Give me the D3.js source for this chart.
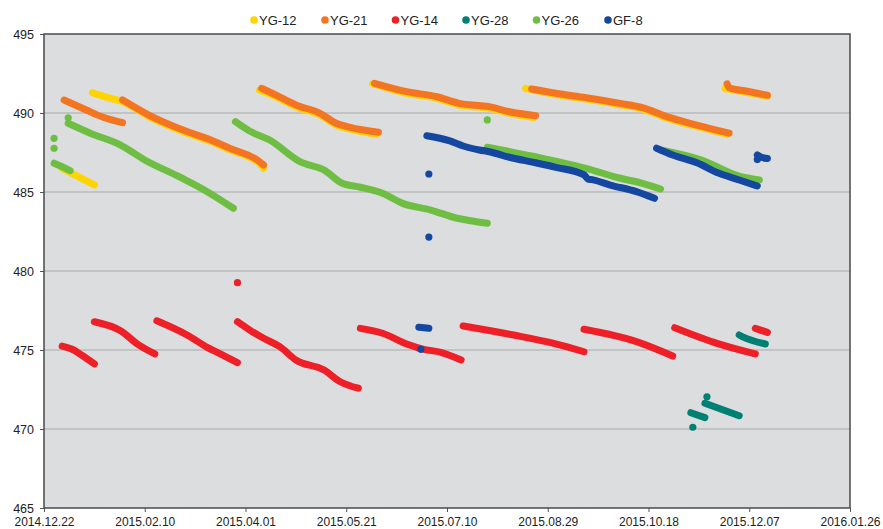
<!DOCTYPE html>
<html><head><meta charset="utf-8">
<script src="https://cdn.jsdelivr.net/npm/d3@7"></script>
<style>html,body{margin:0;padding:0;background:#fff;}svg{display:block;font-family:"Liberation Sans",Arial,Helvetica,sans-serif;}</style>
</head><body><svg id="c" width="883" height="529"></svg>
<script>
// ---- data ----
const seriesNames = ["YG-12","YG-21","YG-14","YG-28","YG-26","GF-8"];
const seriesColors = ["#ffd400","#f47521","#ee1f26","#007f73","#6fbe44","#1347a0"];
const xTickLabels = ["2014.12.22","2015.02.10","2015.04.01","2015.05.21","2015.07.10","2015.08.29","2015.10.18","2015.12.07","2016.01.26"];
const xTickDates = ["2014-12-22","2015-02-10","2015-04-01","2015-05-21","2015-07-10","2015-08-29","2015-10-18","2015-12-07","2016-01-26"];
const yTickValues = [465,470,475,480,485,490,495];

const yg12Segments = [
  [["2014-12-31",486.5],["2015-01-06",486.1],["2015-01-16",485.45]],
  [["2015-01-15",491.28],["2015-01-22",491.0],["2015-01-30",490.72],["2015-02-12",489.77],["2015-03-01",488.82],["2015-03-16",488.13],["2015-03-24",487.68],["2015-04-08",486.8],["2015-04-10",486.5]],
  [["2015-04-08",491.45],["2015-04-16",491.02],["2015-04-26",490.4],["2015-05-08",489.87],["2015-05-16",489.24],["2015-05-23",488.98],["2015-06-05",488.65]],
  [["2015-06-03",491.85],["2015-06-20",491.24],["2015-07-05",490.93],["2015-07-16",490.5],["2015-07-31",490.3],["2015-08-10",489.98],["2015-08-22",489.72]],
  [["2015-08-18",491.56],["2015-09-02",491.16],["2015-09-17",490.88],["2015-10-04",490.52],["2015-10-15",490.25],["2015-10-27",489.68],["2015-11-11",489.15],["2015-11-26",488.65]],
  [["2015-11-25",491.55],["2015-12-06",491.3],["2015-12-16",491.05]]
];
const yg12Dots = [];

const yg21Segments = [
  [["2015-01-01",490.82],["2015-01-12",490.19],["2015-01-20",489.75],["2015-01-30",489.39]],
  [["2015-01-30",490.82],["2015-02-12",489.87],["2015-03-01",488.92],["2015-03-16",488.23],["2015-03-24",487.78],["2015-04-08",486.92],["2015-04-10",486.71]],
  [["2015-04-09",491.56],["2015-04-16",491.14],["2015-04-26",490.51],["2015-05-08",489.98],["2015-05-16",489.35],["2015-05-23",489.09],["2015-06-06",488.78]],
  [["2015-06-04",491.88],["2015-06-20",491.35],["2015-07-05",491.03],["2015-07-16",490.61],["2015-07-31",490.4],["2015-08-10",490.08],["2015-08-23",489.83]],
  [["2015-08-21",491.52],["2015-09-02",491.25],["2015-09-17",490.97],["2015-10-04",490.61],["2015-10-15",490.34],["2015-10-27",489.77],["2015-11-11",489.24],["2015-11-27",488.72]],
  [["2015-11-26",491.85],["2015-11-27",491.6],["2015-12-06",491.38],["2015-12-16",491.12]]
];
const yg21Dots = [];

const yg14Segments = [
  [["2014-12-31",475.25],["2015-01-05",475.05],["2015-01-10",474.65],["2015-01-16",474.12]],
  [["2015-01-16",476.79],["2015-01-29",476.22],["2015-02-07",475.32],["2015-02-15",474.75]],
  [["2015-02-16",476.85],["2015-03-03",475.95],["2015-03-13",475.17],["2015-03-19",474.79],["2015-03-28",474.2]],
  [["2015-03-28",476.79],["2015-04-03",476.27],["2015-04-10",475.74],["2015-04-18",475.21],["2015-04-26",474.37],["2015-05-10",473.73],["2015-05-18",472.99],["2015-05-27",472.58]],
  [["2015-05-28",476.37],["2015-06-08",476.06],["2015-06-20",475.38],["2015-06-28",475.06],["2015-07-07",474.85],["2015-07-17",474.37]],
  [["2015-07-18",476.52],["2015-08-12",475.95],["2015-09-01",475.42],["2015-09-16",474.89]],
  [["2015-09-16",476.31],["2015-10-12",475.53],["2015-10-30",474.62]],
  [["2015-10-31",476.41],["2015-11-21",475.42],["2015-12-10",474.75]],
  [["2015-12-10",476.37],["2015-12-16",476.12]]
];
const yg14Dots = [["2015-03-28",479.26]];

const yg28Segments = [
  [["2015-12-02",475.95],["2015-12-04",475.82],["2015-12-15",475.38]],
  [["2015-11-08",471.03],["2015-11-15",470.72]],
  [["2015-11-15",471.63],["2015-12-02",470.84]]
];
const yg28Dots = [["2015-11-16",472.04],["2015-11-09",470.11]];

const yg26Segments = [
  [["2014-12-27",486.82],["2014-12-31",486.6],["2015-01-04",486.35]],
  [["2015-01-03",489.35],["2015-01-14",488.72],["2015-01-29",487.97],["2015-02-10",487.03],["2015-02-27",485.97],["2015-03-13",485.02],["2015-03-26",483.97]],
  [["2015-03-27",489.45],["2015-04-03",488.86],["2015-04-13",488.29],["2015-04-28",486.92],["2015-05-10",486.39],["2015-05-19",485.55],["2015-05-28",485.3],["2015-06-08",484.92],["2015-06-18",484.28],["2015-07-02",483.86],["2015-07-15",483.34],["2015-07-21",483.2],["2015-07-30",483.02]],
  [["2015-07-30",487.83],["2015-08-23",487.23],["2015-09-17",486.5],["2015-10-04",485.87],["2015-10-15",485.55],["2015-10-24",485.19]],
  [["2015-10-24",487.66],["2015-11-13",487.03],["2015-12-02",486.0],["2015-12-12",485.76]]
];
const yg26Dots = [["2014-12-27",488.4],["2014-12-27",487.77],["2015-01-03",489.7],["2015-07-30",489.56]];

const gf8Segments = [
  [["2015-06-30",488.56],["2015-07-11",488.25],["2015-07-18",487.91],["2015-07-26",487.66],["2015-07-31",487.55],["2015-08-10",487.2],["2015-08-23",486.85],["2015-09-02",486.56],["2015-09-16",486.08],["2015-09-18",485.82],["2015-09-20",485.78],["2015-09-29",485.44],["2015-10-12",485.02],["2015-10-21",484.6]],
  [["2015-10-22",487.77],["2015-10-30",487.34],["2015-11-11",486.85],["2015-11-22",486.18],["2015-12-02",485.76],["2015-12-11",485.38]],
  [["2015-06-26",476.44],["2015-07-01",476.37]],
  [["2015-12-11",487.35],["2015-12-13",487.2],["2015-12-16",487.12]]
];
const gf8Dots = [["2015-07-01",486.14],["2015-07-01",482.15],["2015-06-27",475.04],["2015-12-11",487.05]];

const allSegments = [yg12Segments, yg21Segments, yg14Segments, yg28Segments, yg26Segments, gf8Segments];
const allDots = [yg12Dots, yg21Dots, yg14Dots, yg28Dots, yg26Dots, gf8Dots];

// ---- drawing ----
const parse = d3.utcParse("%Y-%m-%d");
const svg = d3.select("#c");
const L = 44, R = 850, T = 34, B = 508;
const x = d3.scaleUtc().domain([parse("2014-12-22"), parse("2016-01-26")]).range([L, R]);
const y = d3.scaleLinear().domain([465, 495]).range([B, T]);

svg.append("rect").attr("x", L).attr("y", T).attr("width", R - L).attr("height", B - T).attr("fill", "#dcdddf");

// gridlines
svg.append("g").selectAll("line").data(yTickValues.slice(1, -1)).join("line")
  .attr("x1", L).attr("x2", R).attr("y1", d => y(d)).attr("y2", d => y(d))
  .attr("stroke", "#b9babc").attr("stroke-width", 1.5);

// axes
const yAxis = d3.axisLeft(y).tickValues(yTickValues).tickSize(4).tickPadding(6).tickFormat(d3.format("d"));
const gy = svg.append("g").attr("transform", `translate(${L},0)`).call(yAxis);
gy.select(".domain").remove();
gy.selectAll("line").attr("stroke", "#555");
gy.selectAll("text").attr("font-size", 12.5).attr("fill", "#222").attr("font-family", "Liberation Sans, Arial, sans-serif");

const xAxis = d3.axisBottom(x).tickValues(xTickDates.map(parse)).tickSize(4).tickPadding(5.8)
  .tickFormat((d, i) => xTickLabels[i]);
const gx = svg.append("g").attr("transform", `translate(0,${B})`).call(xAxis);
gx.select(".domain").remove();
gx.selectAll("line").attr("stroke", "#555");
gx.selectAll("text").attr("font-size", 12).attr("fill", "#222").attr("font-family", "Liberation Sans, Arial, sans-serif");

// frame
svg.append("rect").attr("x", L).attr("y", T).attr("width", R - L).attr("height", B - T)
  .attr("fill", "none").attr("stroke", "#4a4a4a").attr("stroke-width", 1.5);

// series
const line = d3.line().x(d => x(parse(d[0]))).y(d => y(d[1])).curve(d3.curveMonotoneX);
const plot = svg.append("g");
allSegments.forEach((segs, i) => {
  const g = plot.append("g");
  g.selectAll("path").data(segs).join("path")
    .attr("d", line).attr("fill", "none").attr("stroke", seriesColors[i])
    .attr("stroke-width", 7).attr("stroke-linecap", "round").attr("stroke-linejoin", "round");
  g.selectAll("circle").data(allDots[i]).join("circle")
    .attr("cx", d => x(parse(d[0]))).attr("cy", d => y(d[1])).attr("r", 3.6).attr("fill", seriesColors[i]);
});

// legend
const leg = svg.append("g");
const legX = [254, 325, 395.5, 466, 536.5, 608];
seriesNames.forEach((n, i) => {
  leg.append("circle").attr("cx", legX[i]).attr("cy", 20).attr("r", 3.8).attr("fill", seriesColors[i]);
  leg.append("text").attr("x", legX[i] + 5).attr("y", 24.5).attr("font-size", 13).attr("fill", "#222").text(n);
});
</script></body></html>
